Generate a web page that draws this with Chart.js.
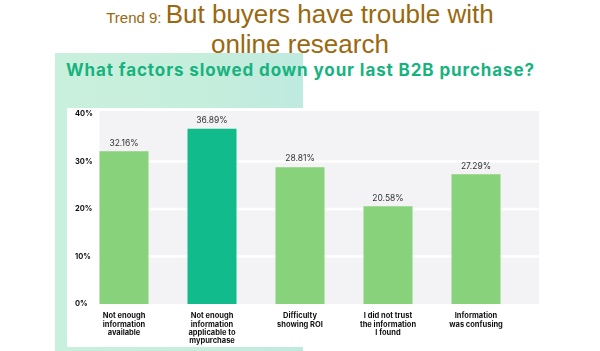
<!DOCTYPE html>
<html>
<head>
<meta charset="utf-8">
<script src="https://cdn.jsdelivr.net/npm/chart.js@4.4.0/dist/chart.umd.min.js"></script>
<style>
  html, body { margin:0; padding:0; background:#fff; }
  #page { position:relative; width:600px; height:351px; overflow:hidden; background:#fff; }
  #title { position:absolute; left:0; top:1px; width:600px; text-align:center;
           font-family:"Liberation Sans", Arial, sans-serif; font-size:26px; line-height:27px; color:#9a680e; }
  #title .small { font-size:15px; }
  #panel { position:absolute; left:55px; top:53px; width:248px; height:298px;
           background:linear-gradient(90deg, #c9f0dd 0%, #c6eedc 55%, #bfeadf 100%); }
  #card { position:absolute; left:67px; top:108px; width:533px; height:239px; background:#fff; }
  #subtitle { position:absolute; left:66px; top:62px; white-space:nowrap;
              font-family:Inter, "Noto Sans", sans-serif; font-weight:700; font-size:17px; line-height:17px;
              letter-spacing:0.9px; color:#17b37f; }
  #myChart { position:absolute; left:0; top:0; }
</style>
</head>
<body>
<div id="page">
  <div id="title"><span class="small">Trend 9: </span>But buyers have trouble with<br>online research</div>
  <div id="panel"></div>
  <div id="card"></div>
  <div id="subtitle">What factors slowed down your last B2B purchase?</div>
  <canvas id="myChart" width="600" height="351"></canvas>
</div>
<script>
// 차트 데이터
const categories = [
  ['Not enough', 'information', 'available'],
  ['Not enough', 'information', 'applicable to', 'mypurchase'],
  ['Difficulty', 'showing ROI'],
  ['I did not trust', 'the information', 'I found'],
  ['Information', 'was confusing']
];
const values = [32.16, 36.89, 28.81, 20.58, 27.29];
const barColors = ['#88d27b', '#12bb8b', '#88d27b', '#88d27b', '#88d27b'];
const yTicks = [0, 10, 20, 30, 40];

// 회색 배경 + 흰색 격자선
const plotBackground = {
  id: 'plotBackground',
  beforeDatasetsDraw(chart) {
    const {ctx, chartArea, scales: {y}} = chart;
    const bar0 = chart.getDatasetMeta(0).data[0];
    const left = bar0.x - bar0.width / 2;
    const right = chartArea.right + 19;
    ctx.save();
    ctx.fillStyle = '#f3f3f6';
    ctx.fillRect(left, chartArea.top - 3, right - left, chartArea.bottom - chartArea.top + 3);
    ctx.strokeStyle = '#ffffff';
    ctx.lineWidth = 2.5;
    yTicks.slice(1, -1).forEach(function(t) {
      const py = y.getPixelForValue(t);
      ctx.beginPath();
      ctx.moveTo(left, py);
      ctx.lineTo(right, py);
      ctx.stroke();
    });
    ctx.restore();
  }
};

// 막대 위 값 표시
const valueLabels = {
  id: 'valueLabels',
  afterDatasetsDraw(chart) {
    const ctx = chart.ctx;
    ctx.save();
    ctx.font = '8.5px Inter, sans-serif';
    ctx.fillStyle = '#333333';
    ctx.textAlign = 'center';
    ctx.textBaseline = 'bottom';
    chart.getDatasetMeta(0).data.forEach(function(bar, i) {
      ctx.fillText(values[i].toFixed(2) + '%', bar.x, bar.y - 4);
    });
    ctx.restore();
  }
};

const ctx = document.getElementById('myChart').getContext('2d');
const myChart = new Chart(ctx, {
  type: 'bar',
  data: {
    labels: categories,
    datasets: [{
      data: values,
      backgroundColor: barColors,
      borderWidth: 0,
      barPercentage: 0.557,
      categoryPercentage: 1
    }]
  },
  options: {
    responsive: false,
    animation: false,
    layout: { padding: { left: 0, right: 80, top: 114, bottom: 0 } },
    plugins: {
      legend: { display: false },
      tooltip: { enabled: false }
    },
    scales: {
      x: {
        grid: { display: false, drawTicks: false },
        border: { display: false },
        ticks: {
          color: '#111111',
          font: { family: 'Inter', weight: 'bold', size: 7.5, lineHeight: 1.1 },
          padding: 8,
          maxRotation: 0,
          autoSkip: false
        },
        afterFit: function(scale) { scale.height = 47; }
      },
      y: {
        min: 0,
        max: 40,
        grid: { display: false, drawTicks: false },
        border: { display: false },
        ticks: {
          stepSize: 10,
          mirror: true,
          padding: -5,
          color: '#111111',
          font: { family: 'Inter', weight: 'bold', size: 7.5 },
          callback: function(v) { return v + '%'; }
        },
        afterFit: function(scale) { scale.width = 80; }
      }
    }
  },
  plugins: [plotBackground, valueLabels]
});
</script>
</body>
</html>
